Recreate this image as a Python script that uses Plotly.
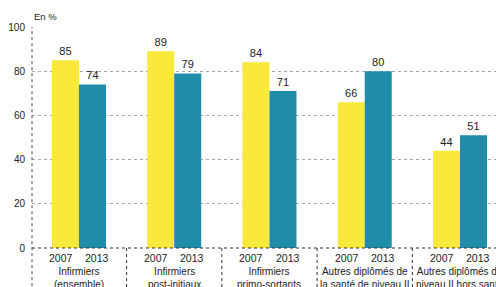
import plotly.graph_objects as go

categories = ["Infirmiers<br>(ensemble)", "Infirmiers<br>post-initiaux", "Infirmiers<br>primo-sortants",
              "Autres diplômés de<br>la santé de niveau II", "Autres diplômés de<br>niveau II hors santé"]
years = ["2007", "2013"]
v2007 = [85, 89, 84, 66, 44]
v2013 = [74, 79, 71, 80, 51]
yticks = [0, 20, 40, 60, 80, 100]

YEL = "#F9E93C"
TEAL = "#1F8DA8"
FONT = "Liberation Sans Narrow, Liberation Sans, Arial"

x = list(range(len(categories)))
fig = go.Figure()
for vals, col, name in [(v2007, YEL, years[0]), (v2013, TEAL, years[1])]:
    fig.add_trace(go.Bar(x=x, y=vals, name=name, marker=dict(color=col, line=dict(width=0)),
                         text=[str(v) for v in vals], textposition="outside",
                         textfont=dict(size=11, color="#222", family="Liberation Sans, Arial"),
                         cliponaxis=False))

PH = 221.0  # plot height in px, used to place labels below the axis in paper units
yoff = 0.19
ann = []
for i, c in enumerate(categories):
    for k, yr in enumerate(years):
        ann.append(dict(x=i + (2 * k - 1) * yoff, y=-2 / PH, xref="x", yref="paper", text=yr, showarrow=False,
                        yanchor="top", font=dict(size=10.5, color="#222", family=FONT)))
    ann.append(dict(x=i, y=-16 / PH, xref="x", yref="paper", text=c, showarrow=False, yanchor="top",
                    font=dict(size=10, color="#222", family=FONT), align="center"))
ann.append(dict(x=0, y=1.015, xref="paper", yref="paper", text="En %", showarrow=False,
                xanchor="left", yanchor="bottom", font=dict(size=9.5, color="#222", family="Liberation Sans, Arial")))

shapes = []
for i in range(len(categories)):
    shapes.append(dict(type="line", xref="x", yref="paper", x0=i + 0.5, x1=i + 0.5, y0=0, y1=-0.2,
                       line=dict(color="#333", width=1, dash="dot")))
shapes.append(dict(type="line", xref="paper", yref="paper", x0=0, x1=0, y0=-0.2, y1=1,
                   line=dict(color="#444", width=1, dash="dot")))
shapes.append(dict(type="line", xref="paper", yref="paper", x0=0, x1=1, y0=0, y1=0,
                   line=dict(color="#333", width=1, dash="dot")))

fig.update_layout(
    width=496, height=287, margin=dict(l=32, r=0, t=27, b=39),
    paper_bgcolor="white", plot_bgcolor="white", showlegend=False,
    barmode="group", bargap=0.433, bargroupgap=0,
    annotations=ann, shapes=shapes,
    xaxis=dict(range=[-0.493, 4.378], showticklabels=False, showgrid=False, zeroline=False, ticks=""),
    yaxis=dict(range=[0, 100], tickvals=yticks, showgrid=True, gridcolor="#aaa", griddash="3px,3px",
               gridwidth=1, zeroline=False, ticks="", ticklabelstandoff=6,
               tickfont=dict(size=10, color="#222", family="Liberation Sans, Arial")),
)
fig.write_html("out.html", config={"displayModeBar": False},
               post_script="document.body.style.margin='0';document.body.style.padding='0';document.body.style.overflow='hidden';")
